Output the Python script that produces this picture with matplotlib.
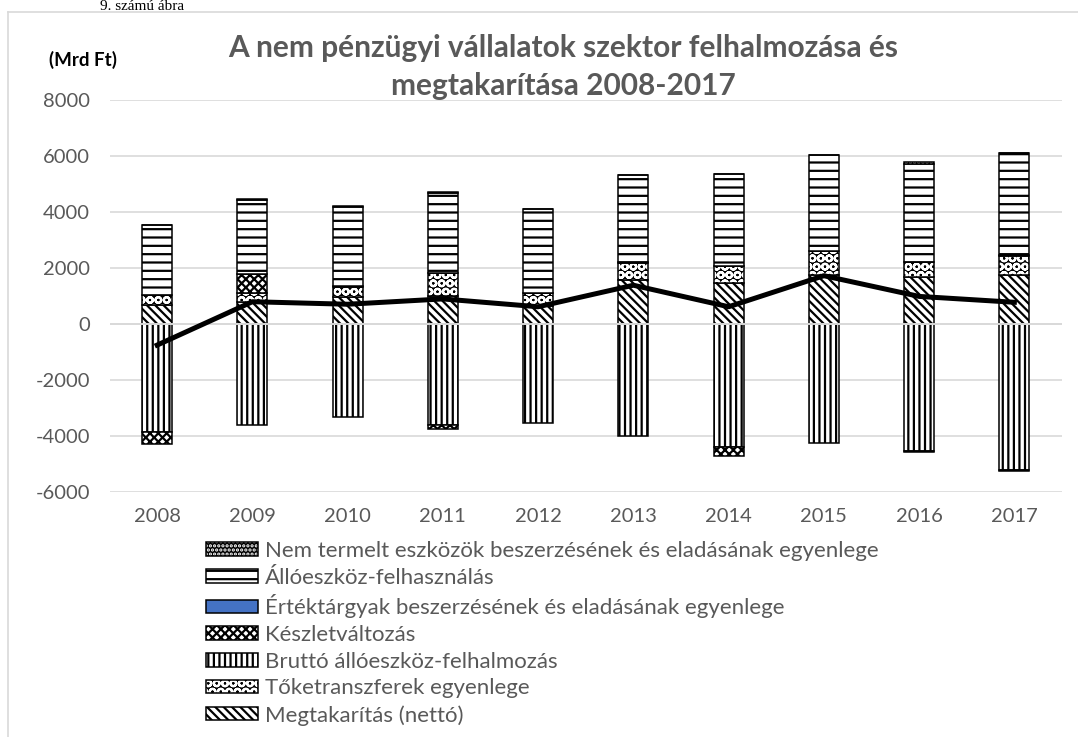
import matplotlib
matplotlib.use('Agg')
import matplotlib.pyplot as plt
from matplotlib.lines import Line2D
from matplotlib.legend_handler import HandlerTuple
import numpy as np

# --------------------------------------------------------------------------------------
# Data (Mrd Ft)

years          = ['2008', '2009', '2010', '2011', '2012', '2013', '2014', '2015', '2016', '2017']
megtakaritas   = [690, 790, 960, 1000, 630, 1560, 1450, 1740, 1680, 1740]
toketranszfer  = [330, 300, 340, 800, 455, 600, 610, 880, 530, 680]
brutto_felh    = [-3880, -3617, -3343, -3618, -3558, -4000, -4393, -4271, -4536, -5225]
keszlet        = [-430, 690, 50, -150, 0, 40, -320, 0, -60, -40]
ertektargyak   = [0, 0, 0, 0, 0, 0, 0, 0, 0, 25]
allo_felhaszn  = [2500, 2660, 2830, 2880, 3035, 3120, 3286, 3404, 3490, 3647]
nem_termelt    = [0, 30, 30, 40, 0, 0, 0, 0, 80, 20]
netto_fin      = [-760, 790, 700, 890, 610, 1380, 610, 1720, 980, 770]

labels = {
    'nem':  'Nem termelt eszközök beszerzésének és eladásának egyenlege',
    'allo': 'Állóeszköz-felhasználás',
    'ert':  'Értéktárgyak beszerzésének és eladásának egyenlege',
    'kesz': 'Készletváltozás',
    'brt':  'Bruttó állóeszköz-felhalmozás',
    'toke': 'Tőketranszferek egyenlege',
    'megt': 'Megtakarítás (nettó)',
}

# --------------------------------------------------------------------------------------
# Style

plt.rcParams['font.family'] = ['Lato', 'DejaVu Sans']
plt.rcParams['hatch.linewidth'] = 1.6
plt.rcParams['axes.unicode_minus'] = False

gray_txt  = '#595959'
grid_col  = '#D9D9D9'
BS = chr(92)   # backslash, for the diagonal hatch

W, H = 1078, 737
fig = plt.figure(figsize=(W / 100, H / 100), dpi=100)
ax = fig.add_axes([109.5 / W, 1 - 491.7 / H, (1062 - 109.5) / W, (491.7 - 100) / H])

x = np.arange(len(years))
width = 0.315

# stacking: positives grow upward, negatives downward
pos_base = np.zeros(len(years))
neg_base = np.zeros(len(years))

def stack(vals, face, hatch, hcol):
    vals = np.array(vals, dtype=float)
    bottoms = np.where(vals >= 0, pos_base, neg_base)
    b1 = ax.bar(x, vals, width, bottom=bottoms, color=face, edgecolor=hcol,
                hatch=hatch, linewidth=0, zorder=2)
    b2 = ax.bar(x, vals, width, bottom=bottoms, fill=False, edgecolor='black',
                linewidth=1.1, zorder=2)
    pos_base[:] = pos_base + np.where(vals > 0, vals, 0)
    neg_base[:] = neg_base + np.where(vals < 0, vals, 0)
    return (b1, b2)

h_megt = stack(megtakaritas, 'white', BS * 4, 'black')
h_toke = stack(toketranszfer, 'black', 'OO', 'white')
h_brt  = stack(brutto_felh, 'white', '|||', 'black')
h_kesz = stack(keszlet, 'white', 'xxxx', 'black')
h_ert  = stack(ertektargyak, '#4472C4', None, '#4472C4')
h_allo = stack(allo_felhaszn, 'white', '--', 'black')
h_nem  = stack(nem_termelt, 'black', '....', 'white')

ax.plot(x, netto_fin, color='black', linewidth=3.6, zorder=5)

# axes look
ax.set_xlim(-0.5, len(years) - 0.5)
ax.set_ylim(-6000, 8000)
ax.set_yticks(np.arange(-6000, 8001, 2000))
ax.set_xticks(x)
ax.set_xticklabels(years)
ax.grid(True, axis='y', color=grid_col, linewidth=1.2, zorder=0)
ax.set_axisbelow(True)
ax.axhline(0, color=grid_col, linewidth=1.4, zorder=3)
for s in ax.spines.values():
    s.set_visible(False)
ax.tick_params(length=0, labelsize=14.5, colors=gray_txt, pad=14)
ax.tick_params(axis='x', pad=12)

# titles
fig.text(563 / W, 1 - 67 / H, 'A nem pénzügyi vállalatok szektor felhalmozása és\nmegtakarítása 2008-2017',
         ha='center', va='center', fontsize=21.5, fontweight='bold', color=gray_txt, linespacing=1.42)
fig.text(49 / W, 1 - 60 / H, '(Mrd Ft)', ha='left', va='center', fontsize=13.5,
         fontweight='bold', color='black')
fig.text(100 / W, 1 - 10.5 / H, '9. számú ábra', ha='left', va='baseline', fontsize=11,
         family='Liberation Serif', color='black')

# chart frame (left and top sides only visible)
fig.add_artist(Line2D([8 / W, 8 / W], [0, 1 - 12 / H], color=grid_col, linewidth=1.2))
fig.add_artist(Line2D([8 / W, 1], [1 - 12 / H, 1 - 12 / H], color=grid_col, linewidth=1.2))

# legend
handles = [h_nem, h_allo, h_ert, h_kesz, h_brt, h_toke, h_megt]
names = [labels[k] for k in ['nem', 'allo', 'ert', 'kesz', 'brt', 'toke', 'megt']]
leg = fig.legend(handles, names, loc='upper left', bbox_to_anchor=(206 / W, 1 - 541 / H),
                 frameon=False, fontsize=16, handlelength=2.35, handleheight=0.55,
                 handletextpad=0.3, labelspacing=0.3, borderpad=0, borderaxespad=0,
                 handler_map={tuple: HandlerTuple(ndivide=1, pad=0)})
for t in leg.get_texts():
    t.set_color(gray_txt)

fig.savefig('out.png', dpi=100)
